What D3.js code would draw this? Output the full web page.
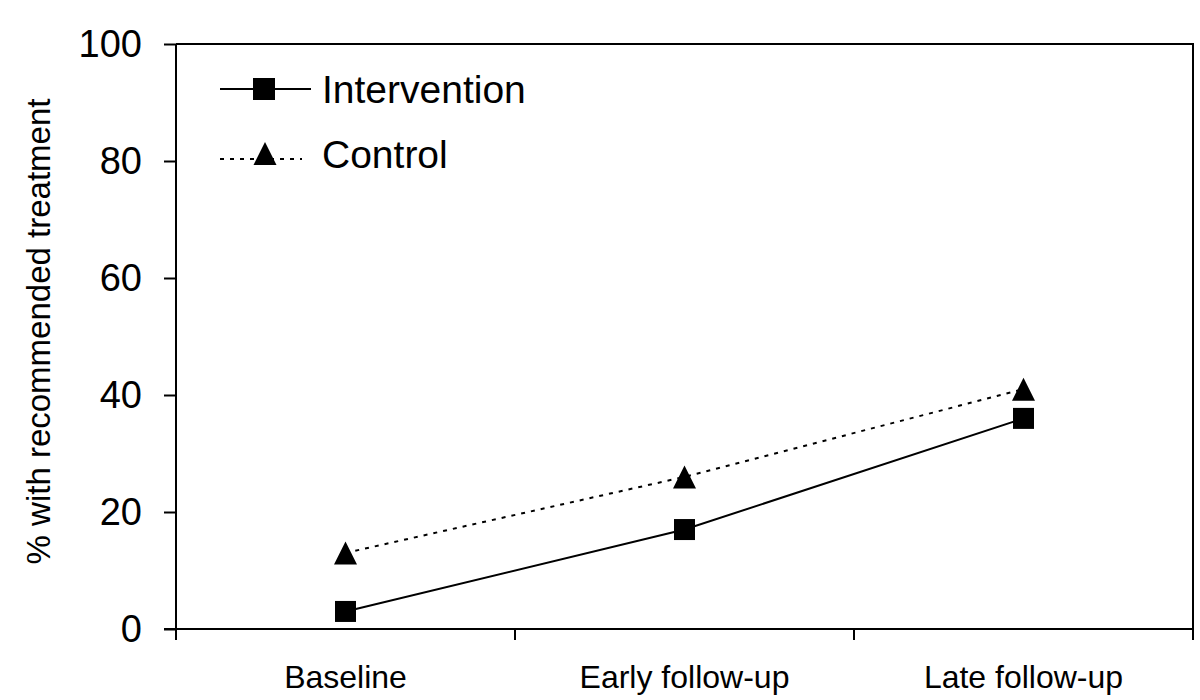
<!DOCTYPE html>
<html>
<head>
<meta charset="utf-8">
<script src="https://cdn.jsdelivr.net/npm/d3@7"></script>
<style>
  html, body { margin: 0; padding: 0; background: #fff; }
  svg { display: block; font-family: "Liberation Sans", Arial, sans-serif; }
</style>
</head>
<body>
<svg id="chart" width="1200" height="700"></svg>
<script>
const categories = ["Baseline", "Early follow-up", "Late follow-up"];
const interventionValues = [3, 17, 36];
const controlValues = [13, 26, 41];
const yTickValues = [0, 20, 40, 60, 80, 100];
const seriesNames = ["Intervention", "Control"];
const yTitle = "% with recommended treatment";

const svg = d3.select("#chart");
const plotLeft = 176, plotRight = 1193, plotTop = 44, plotBottom = 629;

const x = d3.scaleBand().domain(categories).range([plotLeft, plotRight]).padding(0);
const y = d3.scaleLinear().domain([0, 100]).range([plotBottom, plotTop]);

// frame: top and right
svg.append("path")
  .attr("d", `M${plotLeft},${y(100)}H${plotRight}V${plotBottom}`)
  .attr("fill", "none").attr("stroke", "#000").attr("stroke-width", 2);

// y axis
const yAxis = svg.append("g")
  .attr("transform", `translate(${plotLeft},0)`)
  .call(d3.axisLeft(y).tickValues(yTickValues).tickSize(12).tickPadding(22).tickSizeOuter(0));
yAxis.select(".domain").attr("stroke-width", 2).attr("d", `M0,${plotBottom + 11}V${plotTop}`);
yAxis.selectAll(".tick line").attr("stroke-width", 2);
yAxis.selectAll(".tick text")
  .attr("font-size", 38).attr("fill", "#000")
  .attr("font-family", "Liberation Sans, Arial, sans-serif");

// x axis line and boundary ticks
svg.append("line")
  .attr("x1", plotLeft - 12).attr("x2", plotRight)
  .attr("y1", plotBottom).attr("y2", plotBottom)
  .attr("stroke", "#000").attr("stroke-width", 2);
const boundaries = [x(categories[0])].concat(categories.map(c => x(c) + x.bandwidth()));
svg.selectAll(".xtick").data(boundaries).enter().append("line")
  .attr("class", "xtick")
  .attr("x1", d => d).attr("x2", d => d)
  .attr("y1", plotBottom).attr("y2", plotBottom + 11)
  .attr("stroke", "#000").attr("stroke-width", 2);
svg.selectAll(".xlabel").data(categories).enter().append("text")
  .attr("class", "xlabel")
  .attr("x", d => x(d) + x.bandwidth() / 2)
  .attr("y", 688)
  .attr("text-anchor", "middle")
  .attr("font-size", 32)
  .text(d => d);

// y title
svg.append("text")
  .attr("transform", `translate(50,${(94 + 569) / 2}) rotate(-90)`)
  .attr("text-anchor", "middle")
  .attr("font-size", 33)
  .text(yTitle);

const cx = c => x(c) + x.bandwidth() / 2;
const line = d3.line().x(d => cx(d.c)).y(d => y(d.v));
const intData = categories.map((c, i) => ({ c, v: interventionValues[i] }));
const ctlData = categories.map((c, i) => ({ c, v: controlValues[i] }));

// control line (dotted)
svg.append("path").datum(ctlData)
  .attr("d", line).attr("fill", "none")
  .attr("stroke", "#000").attr("stroke-width", 2)
  .attr("stroke-dasharray", "4,6");
// intervention line (solid)
svg.append("path").datum(intData)
  .attr("d", line).attr("fill", "none")
  .attr("stroke", "#000").attr("stroke-width", 2);

const sq = 21, tri = 23;
function triPath(px, py) {
  const h = tri;
  return `M${px},${py - h / 2}L${px + tri / 2},${py + h / 2}L${px - tri / 2},${py + h / 2}Z`;
}
svg.selectAll(".sq").data(intData).enter().append("rect")
  .attr("x", d => cx(d.c) - sq / 2).attr("y", d => y(d.v) - sq / 2)
  .attr("width", sq).attr("height", sq).attr("fill", "#000");
svg.selectAll(".tri").data(ctlData).enter().append("path")
  .attr("d", d => triPath(cx(d.c), y(d.v))).attr("fill", "#000");

// legend
const lg = svg.append("g");
lg.append("line").attr("x1", 220).attr("x2", 311).attr("y1", 89).attr("y2", 89)
  .attr("stroke", "#000").attr("stroke-width", 2);
lg.append("rect").attr("x", 264 - 11).attr("y", 78).attr("width", 22).attr("height", 22).attr("fill", "#000");
lg.append("text").attr("x", 322).attr("y", 103).attr("font-size", 39).text(seriesNames[0]);
lg.append("line").attr("x1", 220).attr("x2", 302).attr("y1", 159).attr("y2", 159)
  .attr("stroke", "#000").attr("stroke-width", 2).attr("stroke-dasharray", "4,6");
lg.append("path").attr("d", triPath(265, 153.5)).attr("fill", "#000");
lg.append("text").attr("x", 322).attr("y", 168).attr("font-size", 39).text(seriesNames[1]);
</script>
</body>
</html>
